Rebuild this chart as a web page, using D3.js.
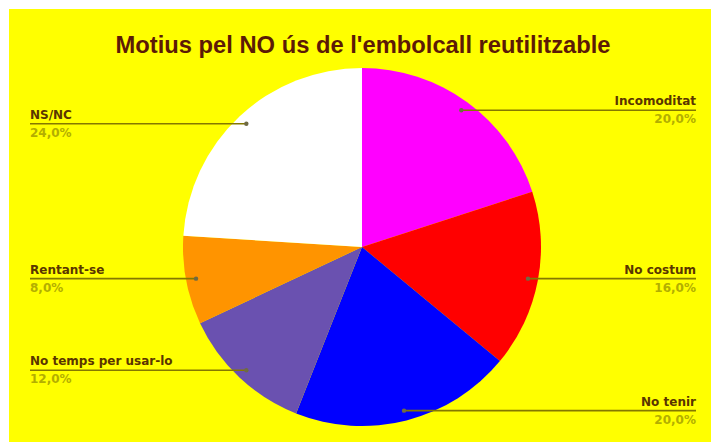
<!DOCTYPE html>
<html><head><meta charset="utf-8">
<script src="https://cdn.jsdelivr.net/npm/d3@7"></script>
<style>html,body{margin:0;padding:0;background:#fff;}svg{display:block;}</style>
</head><body>
<svg id="chart" width="711" height="442"></svg>
<script>
const categories = ["Incomoditat","No costum","No tenir","No temps per usar-lo","Rentant-se","NS/NC"];
const values = [20,16,20,12,8,24];
const colors = ["#ff00ff","#ff0000","#0000ff","#6a51b0","#ff9400","#ffffff"];
const title = "Motius pel NO ús de l'embolcall reutilitzable";

const svg = d3.select("#chart");
const W = 711, H = 442;
svg.append("rect").attr("x",9).attr("y",9).attr("width",W-9).attr("height",H-9).attr("fill","#ffff00");

svg.append("text").attr("x",363).attr("y",53).attr("text-anchor","middle")
  .attr("font-family","Liberation Sans, Arial, sans-serif").attr("font-weight","bold")
  .attr("font-size",23).attr("fill","#5c1a06")
  .attr("textLength",495).attr("lengthAdjust","spacingAndGlyphs").text(title);

const cx = 362, cy = 247, r = 179;
const g = svg.append("g").attr("transform",`translate(${cx},${cy})`);
const pie = d3.pie().value(d=>d).sort(null);
const arcs = pie(values);
const arc = d3.arc().innerRadius(0).outerRadius(r);
g.selectAll("path").data(arcs).join("path").attr("d",arc).attr("fill",(d,i)=>colors[i]);

const fmt = v => d3.format(".1f")(v).replace(".",",") + "%";
const total = d3.sum(values);
const dotArc = d3.arc().innerRadius(r*0.944).outerRadius(r*0.944);
const lf = "DejaVu Sans, Verdana, sans-serif";
arcs.forEach((a,i)=>{
  const [px,py] = dotArc.centroid(a);
  const x = cx+px, y = cy+py;
  const right = x > cx;
  const ex = right ? 696 : 30;
  svg.append("line").attr("x1",x).attr("y1",y).attr("x2",ex).attr("y2",y)
    .attr("stroke","#857800").attr("stroke-width",1.6);
  svg.append("circle").attr("cx",x).attr("cy",y).attr("r",2.2).attr("fill","#6f6a45");
  svg.append("text").attr("x",ex).attr("y",y-5).attr("text-anchor",right?"end":"start")
    .attr("font-family",lf).attr("font-weight","bold")
    .attr("font-size",12).attr("fill","#5a3500").text(categories[i]);
  svg.append("text").attr("x",ex).attr("y",y+13).attr("text-anchor",right?"end":"start")
    .attr("font-family",lf).attr("font-weight","bold")
    .attr("font-size",12).attr("fill","#b3ae00").text(fmt(values[i]/total*100));
});
</script>
</body></html>
